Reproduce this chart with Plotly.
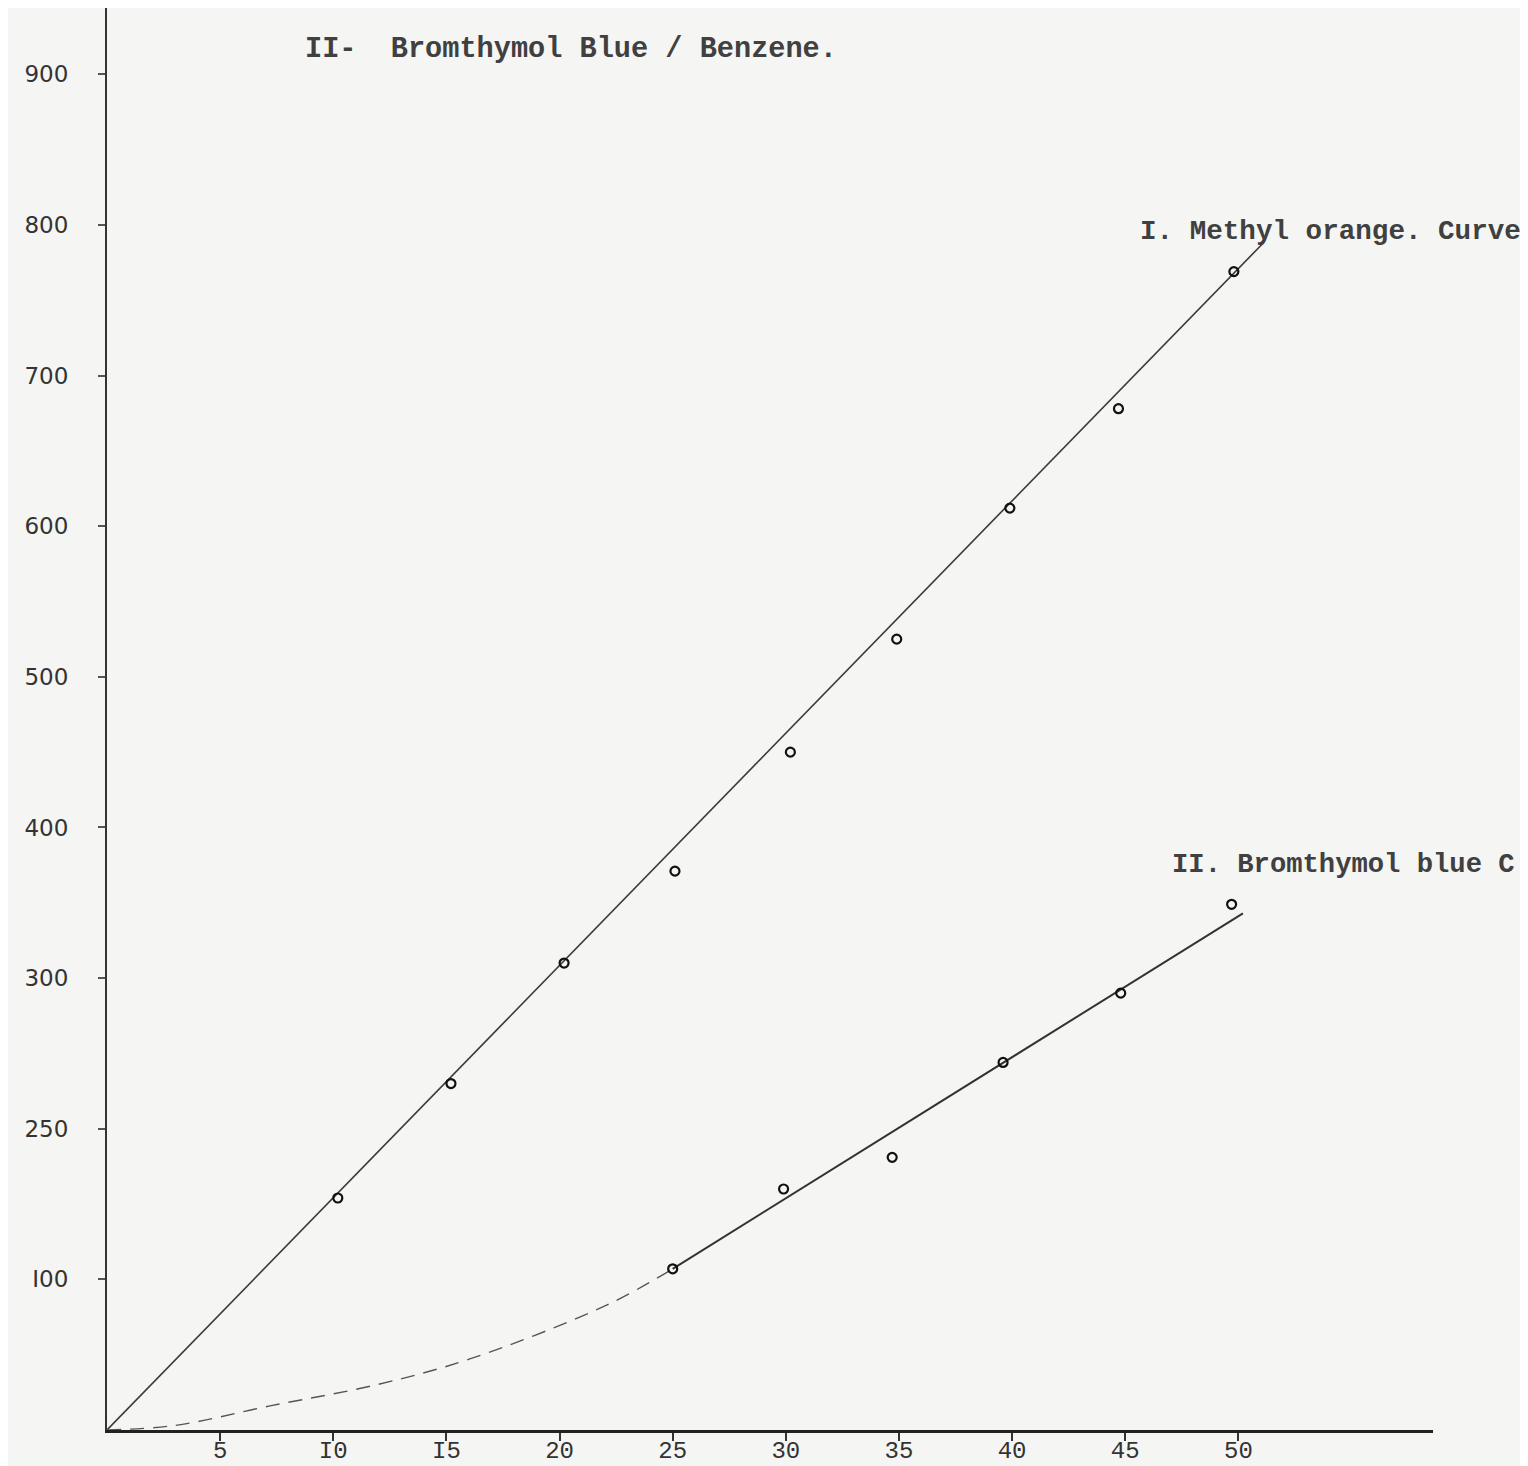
import plotly.graph_objects as go

# ---- data ----
mo_x = [10.2, 15.2, 20.2, 25.1, 30.2, 34.9, 39.9, 44.7, 49.8]
mo_y = [154, 230, 310, 371, 450, 525, 612, 678, 769]
mo_fit_x = [0, 51.1]
mo_fit_y = [0, 788]

bb_x = [25.0, 29.9, 34.7, 39.6, 44.8, 49.7]
bb_y = [107, 160, 181, 244, 290, 349]
bb_fit_x = [25.0, 50.2]
bb_fit_y = [107, 343]
bb_dash_x = [0, 3.0, 7.2, 11.9, 16.0, 22.1, 25.0]
bb_dash_y = [0, 3, 16, 30, 47, 83, 107]

x_tickvals = [5, 10, 15, 20, 25, 30, 35, 40, 45, 50]
x_ticktext = ["5", "I0", "I5", "20", "25", "30", "35", "40", "45", "50"]
y_tickvals = [100, 200, 300, 400, 500, 600, 700, 800, 900]
y_ticktext = ["I00", "250", "300", "400", "500", "600", "700", "800", "900"]

paper = "#f5f5f3"
mono = "Liberation Mono, Courier New, monospace"

fig = go.Figure()
fig.add_trace(go.Scatter(x=mo_fit_x, y=mo_fit_y, mode="lines",
                         line=dict(color="#3a3a3a", width=1.6), hoverinfo="skip"))
fig.add_trace(go.Scatter(x=bb_dash_x, y=bb_dash_y, mode="lines",
                         line=dict(color="#555555", width=1.4, dash="14px,9px", shape="spline"),
                         hoverinfo="skip"))
fig.add_trace(go.Scatter(x=bb_fit_x, y=bb_fit_y, mode="lines",
                         line=dict(color="#333333", width=2), hoverinfo="skip"))
fig.add_trace(go.Scatter(x=mo_x, y=mo_y, mode="markers",
                         marker=dict(symbol="circle-open", size=9, color="#111111",
                                     line=dict(width=2.2, color="#111111"))))
fig.add_trace(go.Scatter(x=bb_x, y=bb_y, mode="markers",
                         marker=dict(symbol="circle-open", size=9, color="#111111",
                                     line=dict(width=2.2, color="#111111"))))

fig.update_layout(
    width=1520, height=1458,
    margin=dict(l=99, r=95, t=0, b=36, autoexpand=False),
    paper_bgcolor=paper, plot_bgcolor=paper,
    showlegend=False,
    xaxis=dict(range=[0, 58.6], showgrid=False, zeroline=False, automargin=False,
               showline=True, linecolor="#222222", linewidth=2.5,
               tickmode="array", tickvals=x_tickvals, ticktext=x_ticktext,
               ticks="outside", ticklen=8, tickwidth=2, tickcolor="#333333",
               ticklabelstandoff=-12,
               tickfont=dict(family=mono, size=24, color="#333333")),
    yaxis=dict(range=[0, 944], showgrid=False, zeroline=False, automargin=False,
               showline=True, linecolor="#333333", linewidth=2,
               tickmode="array", tickvals=y_tickvals, ticktext=y_ticktext,
               ticks="outside", ticklen=7, tickwidth=1.5, tickcolor="#555555",
               ticklabelstandoff=25,
               tickfont=dict(family="DejaVu Sans, sans-serif", size=23, color="#333333")),
    annotations=[
        dict(text="II-  Bromthymol Blue / Benzene.", xref="paper", yref="paper",
             x=0.148, y=0.971, xanchor="left", yanchor="middle", showarrow=False,
             font=dict(family=mono, size=28.6, color="#404040", weight="bold")),
        dict(text="I. Methyl orange. Curve", xref="paper", yref="paper",
             x=0.7775, y=0.8425, xanchor="left", yanchor="middle", showarrow=False,
             font=dict(family=mono, size=27.6, color="#404040", weight="bold")),
        dict(text="II. Bromthymol blue C", xref="paper", yref="paper",
             x=0.802, y=0.398, xanchor="left", yanchor="middle", showarrow=False,
             font=dict(family=mono, size=27.2, color="#404040", weight="bold")),
    ],
)

fig.write_html("out.html")
